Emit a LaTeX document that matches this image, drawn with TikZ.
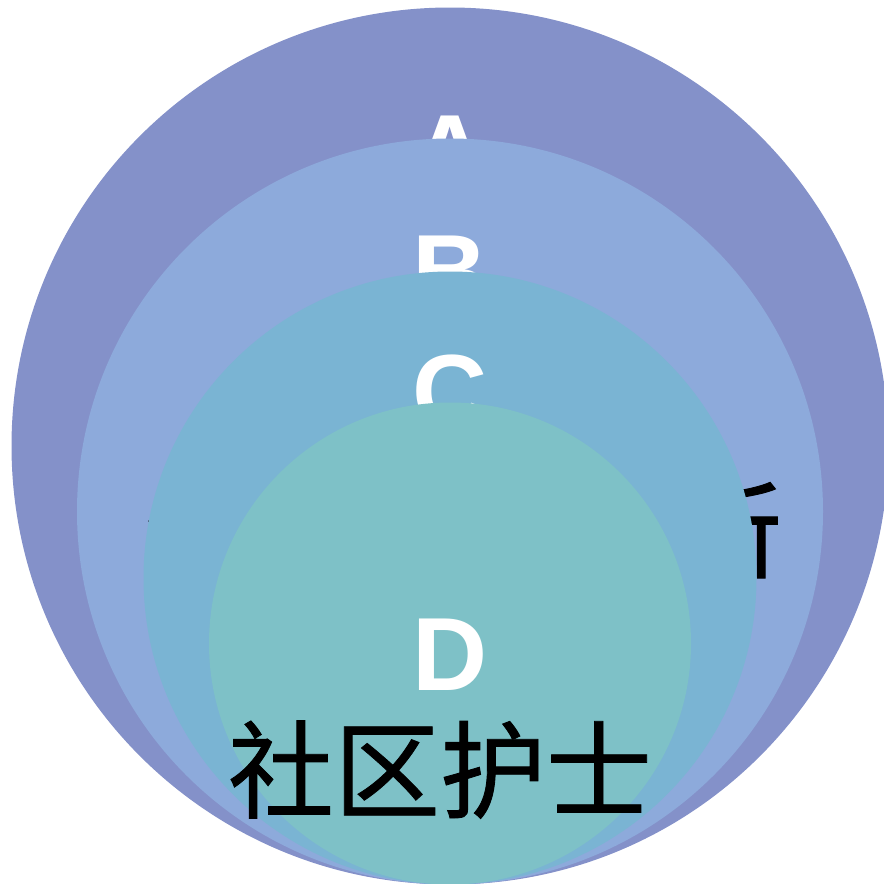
\documentclass[tikz,border=0pt]{standalone}
\usepackage{fontspec}
\setmainfont{Liberation Sans}
\newfontfamily\cjk[FakeBold=0.8]{Noto Sans CJK SC}
\definecolor{cA}{RGB}{132,145,201}
\definecolor{cB}{RGB}{141,170,219}
\definecolor{cC}{RGB}{122,180,211}
\definecolor{cD}{RGB}{126,193,199}
\begin{document}
\begin{tikzpicture}[x=1pt,y=-1pt,
  letter/.style={inner sep=0pt,anchor=base,text=white,font=\fontsize{104}{104}\selectfont\bfseries},
  cjktext/.style={inner sep=0pt,anchor=base,text=black,font=\cjk\fontsize{106}{106}\selectfont}]
\useasboundingbox (0,0) rectangle (884,884);
\fill[cA] (450,446) circle (438.5);
\node[letter] (la) at (450,187) {A};
\fill[cB] (450,511.5) circle (373);
\node[letter] (lb) at (450,307) {B};
\node[cjktext] (tb) at (464,570) {全科医生诊所};
\fill[cC] (450,578) circle (306.5);
\node[letter] (lc) at (450,427) {C};
\fill[cD] (450,643.5) circle (241);
\node[letter] (ld) at (450,690) {D};
\node[cjktext] (td) at (440,810) {社区护士};
\end{tikzpicture}
\end{document}
